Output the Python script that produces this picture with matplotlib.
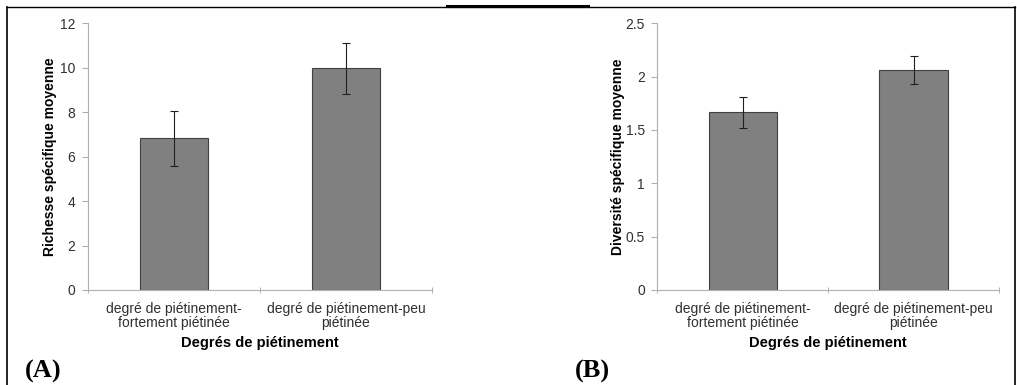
import matplotlib.pyplot as plt
from matplotlib.lines import Line2D

categories = ["degré de piétinement-\nfortement piétinée", "degré de piétinement-peu\npiétinée"]
richesse = [6.82, 9.97]
richesse_err = [1.23, 1.14]
diversite = [1.665, 2.06]
diversite_err = [0.145, 0.13]

plt.rcParams["font.family"] = ["Liberation Sans", "DejaVu Sans"]

fig = plt.figure(figsize=(10.17, 3.85), dpi=100)

panels = [
    dict(rect=[0.0865, 0.2468, 0.3383, 0.6927], values=richesse, err=richesse_err,
         ylim=12, yticks=[0, 2, 4, 6, 8, 10, 12], ylabel="Richesse spécifique moyenne",
         letter="(A)", lx=0.024, pad=2),
    dict(rect=[0.6463, 0.2468, 0.3360, 0.6927], values=diversite, err=diversite_err,
         ylim=2.5, yticks=[0, 0.5, 1, 1.5, 2, 2.5], ylabel="Diversité spécifique moyenne",
         letter="(B)", lx=0.565, pad=0),
]

for p in panels:
    ax = fig.add_axes(p["rect"])
    pos = [0.5, 1.5]
    ax.bar(pos, p["values"], width=0.4, color="#808080", edgecolor="#404040", linewidth=0.8, zorder=2)
    ax.errorbar(pos, p["values"], yerr=p["err"], fmt="none", ecolor="#202020",
                elinewidth=0.8, capsize=3, capthick=0.8, zorder=3)
    ax.set_xlim(0, 2)
    ax.set_ylim(0, p["ylim"])
    ax.set_yticks(p["yticks"])
    ax.set_yticklabels([f"{t:g}" for t in p["yticks"]])
    ax.set_xticks(pos)
    ax.set_xticklabels(categories, fontsize=10, color="#303030", linespacing=1.0)
    ax.set_xticks([0, 1, 2], minor=True)
    ax.tick_params(axis="x", which="major", length=0, pad=9)
    ax.tick_params(axis="x", which="minor", length=4, color="#a0a0a0", direction="inout")
    ax.tick_params(axis="y", length=4, color="#b0b0b0", labelsize=10, labelcolor="#303030", pad=5)
    for s in ["top", "right"]:
        ax.spines[s].set_visible(False)
    for s in ["left", "bottom"]:
        ax.spines[s].set_color("#b0b0b0")
        ax.spines[s].set_linewidth(0.8)
    ax.set_ylabel(p["ylabel"], fontsize=10, fontweight="bold", labelpad=p["pad"])
    ax.set_xlabel("Degrés de piétinement", fontsize=10.5, fontweight="bold", labelpad=4)
    fig.text(p["lx"], 0.005, p["letter"], fontsize=19, fontweight="bold",
             family=["Liberation Serif", "DejaVu Serif"], ha="left", va="bottom")

# frame lines around the panels
fig.add_artist(Line2D([0.007, 0.007], [0.0, 0.982], color="black", lw=1.2, transform=fig.transFigure))
fig.add_artist(Line2D([0.998, 0.998], [0.0, 0.982], color="black", lw=1.2, transform=fig.transFigure))
fig.add_artist(Line2D([0.007, 0.998], [0.982, 0.982], color="black", lw=1.0, transform=fig.transFigure))
fig.add_artist(Line2D([0.44, 0.578], [0.985, 0.985], color="black", lw=2.2, transform=fig.transFigure))

fig.savefig("out.png", dpi=100)
